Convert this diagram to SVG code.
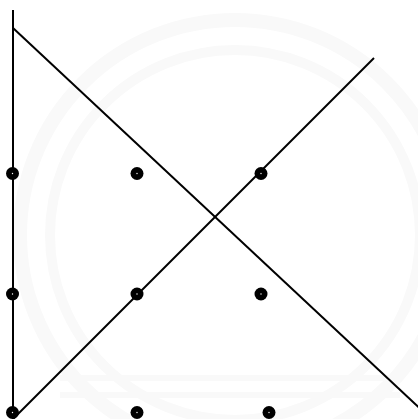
<svg xmlns="http://www.w3.org/2000/svg" width="418" height="419" viewBox="0 0 418 419">
<style>
.dot{fill:#000}
.hole{fill:#fff}
.ln{stroke:#000;stroke-width:2;fill:none;stroke-linecap:butt}
.wm{fill:none;stroke:#f9f9f9}
</style>
<rect width="418" height="419" fill="#fff"/>
<g id="watermark">
<circle class="wm" cx="235" cy="235" r="215" stroke-width="14"/>
<circle class="wm" cx="235" cy="235" r="185" stroke-width="10"/>
<path class="wm" d="M60 395 H400 M60 378 H400" stroke-width="6"/>
</g>
<g id="connectors">
<line class="ln" x1="13" y1="10" x2="13" y2="419"/>
<line class="ln" x1="13" y1="28" x2="428" y2="416"/>
<line class="ln" x1="13" y1="419" x2="374" y2="58"/>
</g>
<g id="d11"><circle class="dot" cx="12.5" cy="173.5" r="6.5"/><circle class="hole" cx="12.5" cy="173.5" r="0.7"/></g>
<g id="d12"><circle class="dot" cx="137" cy="173.5" r="6.5"/><circle class="hole" cx="137" cy="173.5" r="0.7"/></g>
<g id="d13"><circle class="dot" cx="261" cy="173.5" r="6.5"/><circle class="hole" cx="261" cy="173.5" r="0.7"/></g>
<g id="d21"><circle class="dot" cx="12.5" cy="294" r="6.5"/><circle class="hole" cx="12.5" cy="294" r="0.7"/></g>
<g id="d22"><circle class="dot" cx="137" cy="294" r="6.5"/><circle class="hole" cx="137" cy="294" r="0.7"/></g>
<g id="d23"><circle class="dot" cx="261" cy="294" r="6.5"/><circle class="hole" cx="261" cy="294" r="0.7"/></g>
<g id="d31"><circle class="dot" cx="12.5" cy="412.5" r="6.5"/><circle class="hole" cx="12.5" cy="412.5" r="0.7"/></g>
<g id="d32"><circle class="dot" cx="137" cy="412.5" r="6.5"/><circle class="hole" cx="137" cy="412.5" r="0.7"/></g>
<g id="d33"><circle class="dot" cx="269" cy="412.5" r="6.5"/><circle class="hole" cx="269" cy="412.5" r="0.7"/></g>
</svg>
